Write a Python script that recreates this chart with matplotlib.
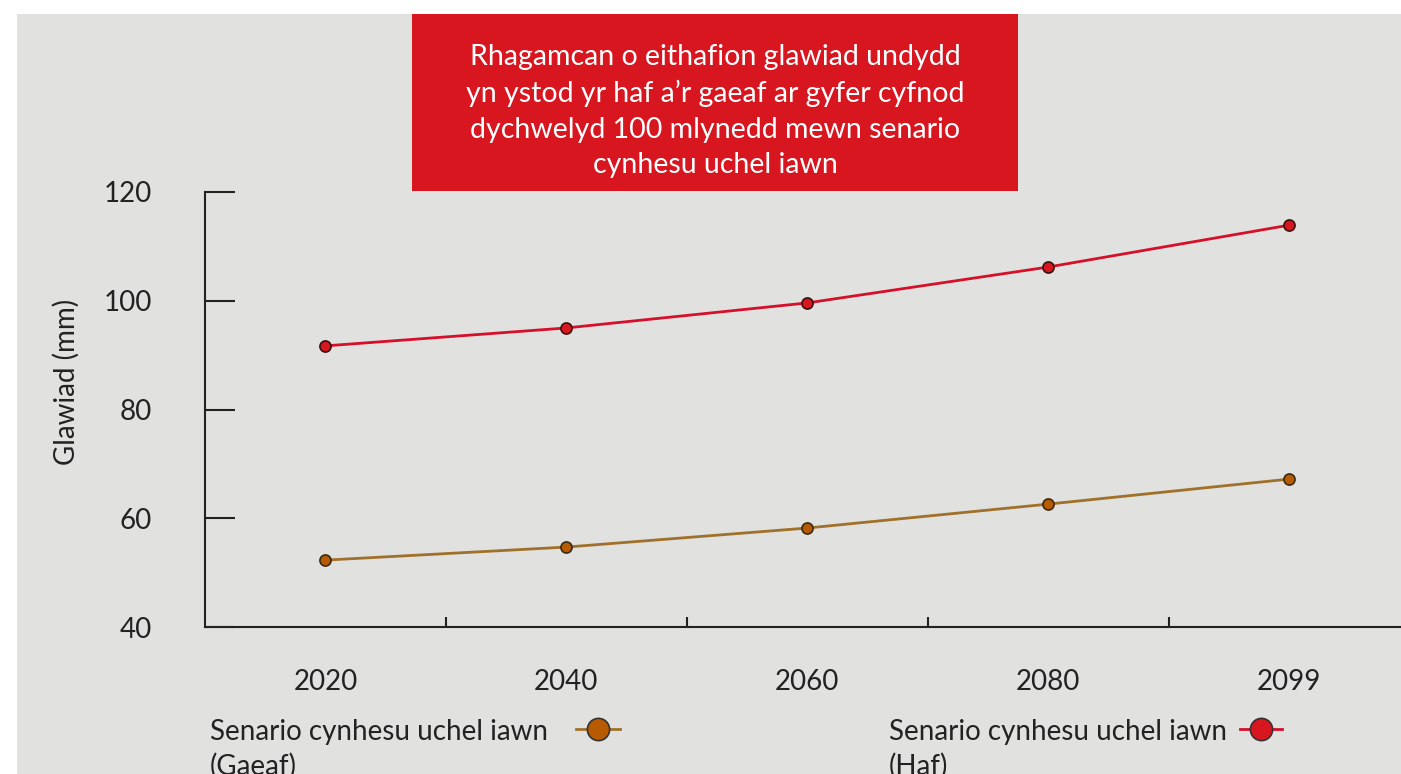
import numpy as np
import matplotlib
matplotlib.use("Agg")
import matplotlib.pyplot as plt
from matplotlib.patches import Rectangle
from matplotlib.lines import Line2D

plt.rcParams['font.family'] = ['Lato', 'DejaVu Sans']

# data
years = ['2020', '2040', '2060', '2080', '2099']
haf = [91.7, 95.0, 99.6, 106.2, 113.9]
gaeaf = [52.3, 54.7, 58.2, 62.6, 67.2]
yticks = [40, 60, 80, 100, 120]

title = ("Rhagamcan o eithafion glawiad undydd\n"
         "yn ystod yr haf a\u2019r gaeaf ar gyfer cyfnod\n"
         "dychwelyd 100 mlynedd mewn senario\n"
         "cynhesu uchel iawn")
label_gaeaf = "Senario cynhesu uchel iawn\n(Gaeaf)"
label_haf = "Senario cynhesu uchel iawn\n(Haf)"

W, H = 1401, 774
bg = '#e1e1e0'
red = '#d7161f'
red_line = '#d5102a'
gold_line = '#a0712a'
orange = '#b85a00'
ink = '#222222'

fig = plt.figure(figsize=(W / 100, H / 100), dpi=100)
fig.patch.set_facecolor('white')

def fx(px):
    return px / W

def fy(py):
    return 1 - py / H

# grey panel and red title box
fig.add_artist(Rectangle((fx(17), 0), fx(W) - fx(17), fy(14), transform=fig.transFigure,
                         facecolor=bg, edgecolor='none', zorder=0))
fig.add_artist(Rectangle((fx(412), fy(191)), fx(1018) - fx(412), fy(14) - fy(191),
                         transform=fig.transFigure, facecolor=red, edgecolor='none', zorder=1))
fig.text(fx(715), fy(111), title, color='white', ha='center', va='center',
         fontsize=20.5, linespacing=1.46, zorder=2)

ax = fig.add_axes([fx(205), fy(627), fx(1401) - fx(205), fy(192) - fy(627)])
ax.set_facecolor('none')

x = np.arange(len(years))
ax.plot(x, haf, color=red_line, lw=2, marker='o', ms=8, mfc=red, mec='#3a1010', mew=1.2,
        zorder=3, clip_on=False)
ax.plot(x, gaeaf, color=gold_line, lw=2, marker='o', ms=8, mfc=orange, mec='#3a2a10',
        mew=1.2, zorder=3, clip_on=False)

ax.set_xlim(-0.5, (1401 - 325) / 241)
ax.set_ylim(40, 120)

for s in ['top', 'right']:
    ax.spines[s].set_visible(False)
for s in ['left', 'bottom']:
    ax.spines[s].set_color(ink)
    ax.spines[s].set_linewidth(1.5)

ax.set_yticks(yticks)
ax.tick_params(axis='y', direction='in', length=21.6, width=1.5, color=ink,
               labelsize=20, labelcolor=ink, pad=38)
ax.set_xticks(x)
ax.set_xticklabels(years)
ax.set_xticks(x[:-1] + 0.5, minor=True)
ax.tick_params(axis='x', which='major', length=0, labelsize=20, labelcolor=ink, pad=30)
ax.tick_params(axis='x', which='minor', direction='in', length=7.5, width=1.5, color=ink)

ax.set_ylabel('Glawiad (mm)', fontsize=20, color=ink)
ax.yaxis.set_label_coords(-(205 - 80) / (1401 - 205), (627 - 382) / (627 - 192))

# legend: label text on the left, key on the right
for tx, kx0, kx1, lab, lc, mc in [(210, 576, 620, label_gaeaf, gold_line, orange),
                                   (889, 1240, 1282, label_haf, red_line, red)]:
    fig.text(fx(tx), fy(719), lab, ha='left', va='top', fontsize=20, color=ink,
             linespacing=1.38)
    fig.add_artist(Line2D([fx(kx0), fx(kx1)], [fy(729), fy(729)], color=lc, lw=2,
                          transform=fig.transFigure))
    fig.add_artist(Line2D([fx((kx0 + kx1) / 2)], [fy(729)], marker='o', ms=16, mfc=mc,
                          mec='#333333', mew=1.2, transform=fig.transFigure))

fig.savefig('out.png', dpi=100, facecolor=fig.get_facecolor())
